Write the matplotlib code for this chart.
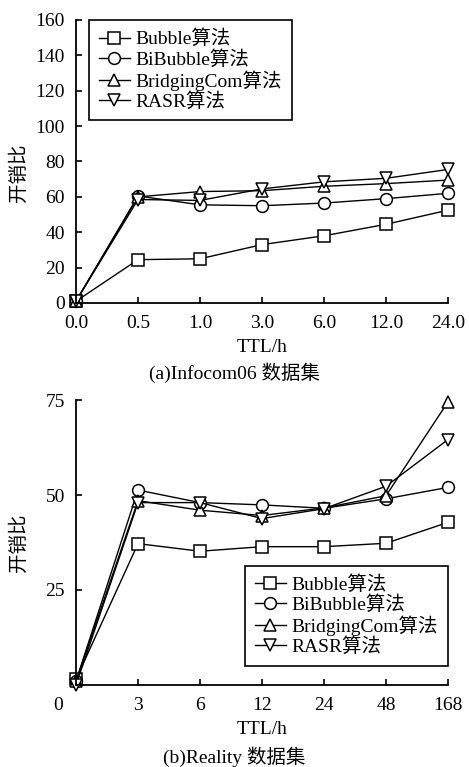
import numpy as np
import matplotlib
matplotlib.use('Agg')
import matplotlib.pyplot as plt
from matplotlib.transforms import ScaledTranslation

plt.rcParams['font.family'] = ['Liberation Serif', 'Noto Sans CJK SC']
plt.rcParams['font.size'] = 14

# (a) Infocom06
ttl_a = ['0.0', '0.5', '1.0', '3.0', '6.0', '12.0', '24.0']
bubble_a = [1, 24.5, 25, 33, 38, 44.5, 52.5]
bibubble_a = [1, 60.5, 55.5, 55, 56.5, 59, 62]
bridging_a = [1, 60, 63, 63.5, 66, 67.5, 69.5]
rasr_a = [1, 58.5, 58, 64.5, 68.5, 70.5, 75.5]

# (b) Reality
ttl_b = ['0', '3', '6', '12', '24', '48', '168']
bubble_b = [1.5, 37.2, 35.2, 36.4, 36.4, 37.3, 42.8]
bibubble_b = [1, 51.3, 48, 47.4, 46.5, 49, 52]
bridging_b = [1, 48.5, 46, 44.6, 46.6, 49.8, 74.5]
rasr_b = [0, 48, 48, 43.8, 46.4, 52.3, 64.6]

names = ['Bubble算法', 'BiBubble算法', 'BridgingCom算法', 'RASR算法']
markers = ['s', 'o', '^', 'v']

fig = plt.figure(figsize=(4.69, 7.67), dpi=100)
ax1 = fig.add_axes([76/469, 1-303/767, 372/469, 283/767])
ax2 = fig.add_axes([76/469, 1-685/767, 372/469, 285/767])


def draw(ax, ticks, series, ymax, yticks):
    x = np.arange(len(ticks))
    for s, m, n in zip(series, markers, names):
        ax.plot(x, s, color='black', lw=1.0, marker=m, markersize=8.5,
                markerfacecolor='white', markeredgecolor='black',
                markeredgewidth=1.1, label=n, clip_on=False)
    ax.set_xlim(0, len(ticks) - 1)
    ax.set_ylim(0, ymax)
    ax.set_xticks(x)
    ax.set_xticklabels(ticks)
    ax.set_yticks(yticks)
    for sp in ['top', 'right']:
        ax.spines[sp].set_visible(False)
    for sp in ['left', 'bottom']:
        ax.spines[sp].set_linewidth(1.3)
    ax.tick_params(direction='in', length=4, width=1.2)
    ax.tick_params(axis='x', pad=9)
    ax.tick_params(axis='y', pad=8)
    ax.set_xlabel('TTL/h', labelpad=5)
    ax.set_ylabel('开销比')


draw(ax1, ttl_a, [bubble_a, bibubble_a, bridging_a, rasr_a], 160,
     [0, 20, 40, 60, 80, 100, 120, 140, 160])
draw(ax2, ttl_b, [bubble_b, bibubble_b, bridging_b, rasr_b], 75, [25, 50, 75])

ax1.yaxis.set_label_coords(-0.13, 0.46)
ax2.yaxis.set_label_coords(-0.13, 0.5)

# the "0" label in (b) sits left of the axis
lab0 = ax2.get_xticklabels()[0]
lab0.set_transform(lab0.get_transform() + ScaledTranslation(-18/100, 0, fig.dpi_scale_trans))

leg_kw = dict(frameon=True, fancybox=False, edgecolor='black', framealpha=1,
              handlelength=1.6, handletextpad=0.3, labelspacing=0.08,
              borderpad=0.5, borderaxespad=0, fontsize=14)
leg1 = ax1.legend(loc='upper left', bbox_to_anchor=(13/372, 1.0), **leg_kw)
leg2 = ax2.legend(loc='lower right', bbox_to_anchor=(1.0, 19/285), **leg_kw)
for leg in (leg1, leg2):
    leg.get_frame().set_linewidth(1.2)

fig.text(0.5, 1-373/767, '(a)Infocom06 数据集', ha='center', va='center')
fig.text(0.5, 1-757/767, '(b)Reality 数据集', ha='center', va='center')

fig.savefig('out.png', dpi=100)
